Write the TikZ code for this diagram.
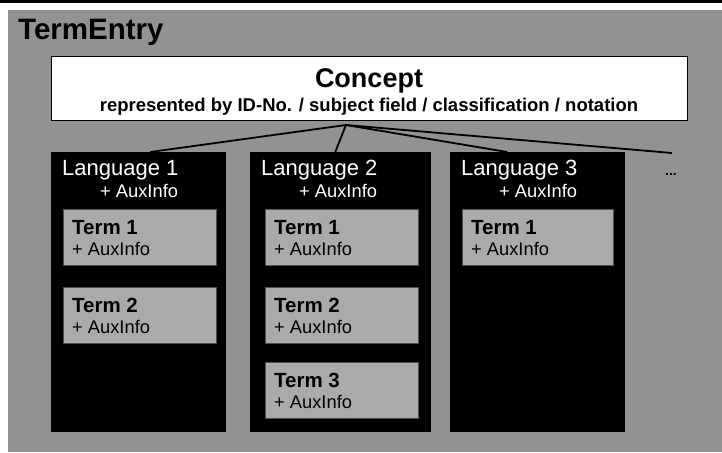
\documentclass[tikz,border=0pt]{standalone}
\usepackage{fontspec}
\setmainfont{Liberation Sans}
\usetikzlibrary{calc}
\definecolor{bggray}{HTML}{929292}
\definecolor{termgray}{HTML}{AAAAAA}
\definecolor{termedge}{HTML}{505050}
\tikzset{
  conceptbox/.style={draw=black, line width=1pt, fill=white, anchor=north west, inner sep=0pt, minimum width=636pt, minimum height=64pt},
  langbox/.style={fill=black, anchor=north west, inner sep=0pt, minimum height=280pt},
  termbox/.style={draw=termedge, line width=1pt, fill=termgray, anchor=north west, inner sep=0pt, minimum width=153pt, minimum height=56pt},
  txt/.style={inner sep=0pt, anchor=base west},
  langtxt/.style={txt, text=white, font=\fontsize{22}{22}\selectfont},
  langaux/.style={txt, text=white, font=\fontsize{18.3}{18.3}\selectfont},
  termtxt/.style={txt, font=\bfseries\fontsize{20.5}{20.5}\selectfont},
  termaux/.style={txt, font=\fontsize{18.3}{18.3}\selectfont},
  link/.style={line width=1.8pt, black},
}
\begin{document}
\begin{tikzpicture}[x=1pt,y=-1pt]
\useasboundingbox (0,0) rectangle (722,452);
\fill[white] (0,0) rectangle (722,452);
\fill[black] (0,0) rectangle (722,3);
\fill[bggray] (8,10) rectangle (722,452);

\node[txt, font=\bfseries\fontsize{29.5}{29.5}\selectfont] (title) at (18,40) {TermEntry};

\node[conceptbox] (concept) at (51,56) {};
\node[inner sep=0pt, anchor=base, font=\bfseries\fontsize{27}{27}\selectfont] (ctitle) at (369,87) {Concept};
\node[inner sep=0pt, anchor=base, font=\bfseries\fontsize{18.5}{18.5}\selectfont] (csub) at (369,111) {represented by ID-No. / subject field / classification / notation};

% language boxes
\node[langbox, minimum width=175pt] (lang1) at (51,152) {};
\node[langbox, minimum width=181pt] (lang2) at (250,152) {};
\node[langbox, minimum width=175pt] (lang3) at (450,152) {};

\node[langtxt] (l1t) at (62,175) {Language 1};
\node[langaux] (l1a) at (100,197) {+ AuxInfo};
\node[langtxt] (l2t) at (261,175) {Language 2};
\node[langaux] (l2a) at (299,197) {+ AuxInfo};
\node[langtxt] (l3t) at (461,175) {Language 3};
\node[langaux] (l3a) at (499,197) {+ AuxInfo};

% terms
\node[termbox] (t11) at (63,209) {};
\node[termtxt] (t11t) at (72,234) {Term 1};
\node[termaux] (t11a) at (72,255) {+ AuxInfo};
\node[termbox] (t12) at (63,287) {};
\node[termtxt] (t12t) at (72,312) {Term 2};
\node[termaux] (t12a) at (72,333) {+ AuxInfo};

\node[termbox] (t21) at (265,209) {};
\node[termtxt] (t21t) at (274,234) {Term 1};
\node[termaux] (t21a) at (274,255) {+ AuxInfo};
\node[termbox] (t22) at (265,287) {};
\node[termtxt] (t22t) at (274,312) {Term 2};
\node[termaux] (t22a) at (274,333) {+ AuxInfo};
\node[termbox] (t23) at (265,362) {};
\node[termtxt] (t23t) at (274,387) {Term 3};
\node[termaux] (t23a) at (274,408) {+ AuxInfo};

\node[termbox, minimum width=151pt] (t31) at (462,209) {};
\node[termtxt] (t31t) at (471,234) {Term 1};
\node[termaux] (t31a) at (471,255) {+ AuxInfo};

\node[inner sep=0pt, anchor=base, font=\bfseries\fontsize{14}{14}\selectfont] (dots) at (671,175) {...};

% connectors
\coordinate (apex) at (346,125);
\coordinate (e1) at ($(lang1.north west)!0.566!(lang1.north east)$);
\coordinate (e2) at ($(lang2.north west)!0.47!(lang2.north east)$);
\coordinate (e3) at ($(lang3.north west)!0.326!(lang3.north east)$);
\coordinate (e4) at (672,153);
\draw[link] (apex) -- (e1);
\draw[link] (apex) -- (e2);
\draw[link] (apex) -- (e3);
\draw[link] (apex) -- (e4);
\end{tikzpicture}
\end{document}
